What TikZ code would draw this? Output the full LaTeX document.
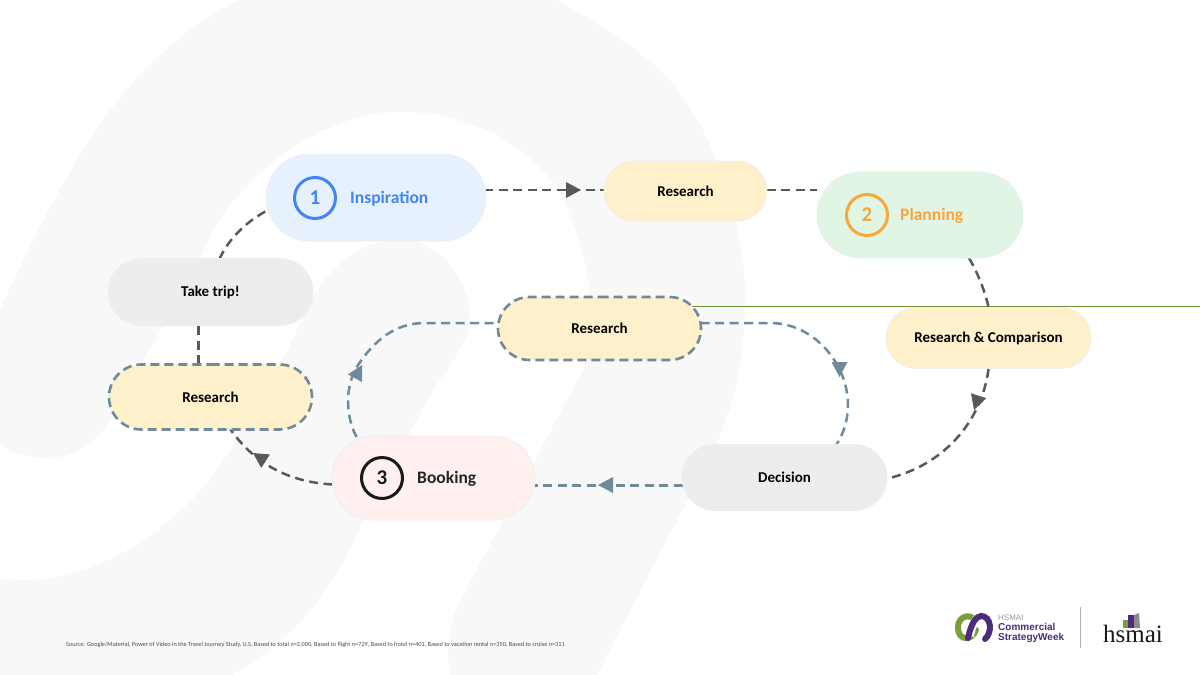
\documentclass[tikz,border=0pt]{standalone}
\usepackage{fontspec}
\setmainfont{Carlito}
\newfontfamily\serifa{Liberation Serif}
\newfontfamily\sansa{Liberation Sans}
\usetikzlibrary{shapes.misc,calc}
\pgfdeclarelayer{bg}
\pgfdeclarelayer{wm}
\pgfsetlayers{wm,bg,main}
\definecolor{wmark}{HTML}{F8F8F9}
\definecolor{darkc}{HTML}{595959}
\definecolor{steel}{HTML}{6F8A9A}
\definecolor{edgec}{HTML}{EEEEEE}
\definecolor{cream}{HTML}{FFF0CC}
\definecolor{bluef}{HTML}{E7F0FD}
\definecolor{greenf}{HTML}{E0F5E3}
\definecolor{pinkf}{HTML}{FFF0EF}
\definecolor{grayf}{HTML}{EDEDED}
\definecolor{blueT}{HTML}{4285F4}
\definecolor{orangeT}{HTML}{F9A63B}
\definecolor{lineg}{HTML}{6F9135}
\definecolor{purp}{HTML}{4F2A7D}
\definecolor{grn}{HTML}{76A13A}
\tikzset{
  pill/.style={rounded rectangle,draw=edgec,line width=0.8pt,inner sep=0pt,font=\bfseries\fontsize{15}{16}\selectfont,text=black,align=center},
  dashpill/.style={pill,draw=steel,line width=2.6pt,dash pattern=on 9pt off 5pt},
  conn/.style={draw=darkc,line width=2.5pt,dash pattern=on 9pt off 5.5pt},
  connS/.style={draw=steel,line width=2.5pt,dash pattern=on 9pt off 5.5pt},
  numc/.style={circle,line width=3pt,minimum size=41pt,inner sep=0pt,font=\bfseries\fontsize{21}{22}\selectfont},
  lab/.style={anchor=west,inner sep=0pt,font=\bfseries\fontsize{17.5}{18}\selectfont},
  tipD/.style={fill=darkc,draw=none},
  tipS/.style={fill=steel,draw=none},
  logoT/.style={anchor=base west,inner sep=0pt}
}
\newcommand{\headtri}[3]{\fill[#1] (#2) -- ($(#2)+(#3:-15)+(#3+90:8)$) -- ($(#2)+(#3:-15)+(#3+90:-8)$) -- cycle;}
\begin{document}
\begin{tikzpicture}[x=1pt,y=-1pt]
\useasboundingbox (0,0) rectangle (1200,675);
\begin{pgfonlayer}{wm}
\fill[white] (0,0) rectangle (1200,675);
% watermark arch
\fill[wmark] (0,310) .. controls (30,245) and (55,195) .. (83,150)
  .. controls (120,90) and (175,30) .. (240,0) -- (557,0)
  .. controls (600,25) and (640,50) .. (667,77)
  .. controls (710,125) and (745,215) .. (745,300)
  .. controls (745,360) and (735,400) .. (717,443)
  -- (597,675) -- (450,675)
  .. controls (445,650) and (450,625) .. (457,607)
  -- (583,370) .. controls (600,320) and (590,255) .. (560,193)
  .. controls (530,145) and (470,112) .. (400,112)
  .. controls (340,112) and (280,150) .. (243,190)
  .. controls (220,215) and (205,245) .. (200,260)
  -- (110,420) .. controls (95,445) and (70,458) .. (47,458)
  .. controls (30,458) and (10,452) .. (0,445) -- cycle;
\fill[wmark] (400,240) .. controls (440,240) and (470,280) .. (470,317)
  .. controls (470,340) and (450,365) .. (433,390)
  -- (363,520) .. controls (340,580) and (300,635) .. (233,675)
  -- (0,675) -- (0,578)
  .. controls (70,590) and (150,550) .. (207,483)
  -- (233,447) -- (293,340)
  .. controls (315,285) and (345,240) .. (400,240) -- cycle;
\end{pgfonlayer}
% nodes
\node[pill,fill=bluef,minimum width=220pt,minimum height=87pt] (insp) at (376,197.5) {};
\node[pill,fill=cream,minimum width=163pt,minimum height=60pt] (restop) at (685.5,191) {Research};
\node[pill,fill=greenf,minimum width=206pt,minimum height=86pt] (plan) at (920,215) {};
\node[pill,fill=cream,minimum width=205pt,minimum height=61pt] (rescomp) at (988.5,338) {Research \& Comparison};
\node[pill,fill=grayf,minimum width=205pt,minimum height=67pt] (trip) at (210.5,292) {Take trip!};
\node[dashpill,fill=cream,minimum width=203pt,minimum height=65pt] (resleft) at (210.5,397) {Research};
\node[dashpill,fill=cream,minimum width=203pt,minimum height=63pt] (resmid) at (599.5,328.5) {Research};
\node[pill,fill=pinkf,minimum width=203pt,minimum height=84pt] (book) at (433.5,478) {};
\node[pill,fill=grayf,minimum width=205pt,minimum height=66pt] (deci) at (784.5,477.5) {Decision};
% numbered marks and labels
\node[numc,draw=blueT,text=blueT] (n1) at (315,198) {1};
\node[lab,text=blueT] (l1) at (350,199) {Inspiration};
\node[numc,draw=orangeT,text=orangeT] (n2) at (867,215) {2};
\node[lab,text=orangeT] (l2) at (900,216) {Planning};
\node[numc,draw=black!90,text=black!90] (n3) at (382,478) {3};
\node[lab,text=black!85] (l3) at (417,479) {Booking};
% connectors
\begin{pgfonlayer}{bg}
\coordinate (gend) at (1200,306);
\draw[lineg,line width=1pt] (resmid.center |- gend) -- (gend);
\draw[conn] ($(insp.center)+(108,-7.5)$) -- ($(restop.center)+(-81,-1)$);
\draw[conn] ($(restop.center)+(81,-1)$) -- ($(plan.center)+(-103,-25)$);
\draw[conn] ($(plan.center)+(49,43)$) .. controls (979,275) and (986,295) .. ($(rescomp.center)+(0,-31)$);
\draw[conn] ($(rescomp.center)+(0,31)$) .. controls (982,420) and (945,465) .. ($(deci.center)+(103,1)$);
\draw[connS,line width=3pt] ($(deci.center)+(-102,7.5)$) -- ($(book.center)+(101,7)$);
\draw[conn] ($(book.center)+(-101,6.5)$) .. controls (290,482) and (255,465) .. ($(resleft.center)+(19,31)$);
\draw[conn] ($(resleft.center)+(-12,-33)$) -- ($(trip.center)+(-12,33)$);
\draw[conn] ($(trip.center)+(9,-33)$) .. controls (228,240) and (245,222) .. ($(insp.center)+(-107,12)$);
\draw[connS] ($(resmid.center)+(101,-5.5)$) -- (770,323) .. controls (815,323) and (848,365) .. (848,405) .. controls (848,420) and (843,435) .. ($(deci.center)+(52,-33)$);
\draw[connS] ($(book.center)+(-77,-41)$) .. controls (345,415) and (345,385) .. (358,365) .. controls (375,340) and (395,323) .. (425,323) -- ($(resmid.center)+(-101,-5.5)$);
\end{pgfonlayer}
% arrow heads
\coordinate (h1) at (581,190);
\coordinate (h2) at (974,410);
\coordinate (h3) at (598,485);
\coordinate (h4) at (253,453);
\coordinate (h5) at (839.5,377);
\coordinate (h6) at (362,365);
\headtri{tipD}{h1}{0}
\headtri{tipD}{h2}{108}
\headtri{tipS}{h3}{180}
\headtri{tipD}{h4}{213}
\headtri{tipS}{h5}{90}
\headtri{tipS}{h6}{-62}
% footer
\node[anchor=west,inner sep=0pt,font=\fontsize{6.25}{7}\selectfont,text=black!70] (src) at (66,645) {Source: Google/Material, Power of Video in the Travel Journey Study, U.S, Based to total n=2,000, Based to flight n=729, Based to hotel n=401, Based to vacation rental n=350, Based to cruise n=311};
% logo
\draw[grn,line width=6pt,line cap=round] (973,618) .. controls (965,613) and (957,620) .. (958,629) .. controls (959,640) and (971,642) .. (976,630);
\draw[white,line width=7.5pt] (970,636) .. controls (973,624) and (976,616) .. (981,616);
\draw[purp,line width=6pt,line cap=round] (968,638) .. controls (971,624) and (976,616) .. (981,616) .. controls (991,616) and (993,632) .. (985,639);
\node[logoT,font=\sansa\fontsize{8}{8}\selectfont,text=black!40] (lg1) at (998,620) {HSMAI};
\node[logoT,font=\sansa\bfseries\fontsize{10}{10}\selectfont,text=purp] (lg2) at (998,630.5) {Commercial};
\node[logoT,font=\sansa\bfseries\fontsize{10}{10}\selectfont,text=purp] (lg3) at (998,640.5) {StrategyWeek};
\draw[black!30,line width=1pt] (1080.5,607) -- (1080.5,648);
\node[logoT,font=\serifa\fontsize{25}{25}\selectfont,text=black!90] (lg4) at (1103,642) {hsmai};
\fill[grn] (1123,620) rectangle (1128,628);
\fill[purp] (1128,615) rectangle (1134,628);
\fill[black!45] (1134,615) -- (1139,613) -- (1140,628) -- (1134,628) -- cycle;
\end{tikzpicture}
\end{document}
